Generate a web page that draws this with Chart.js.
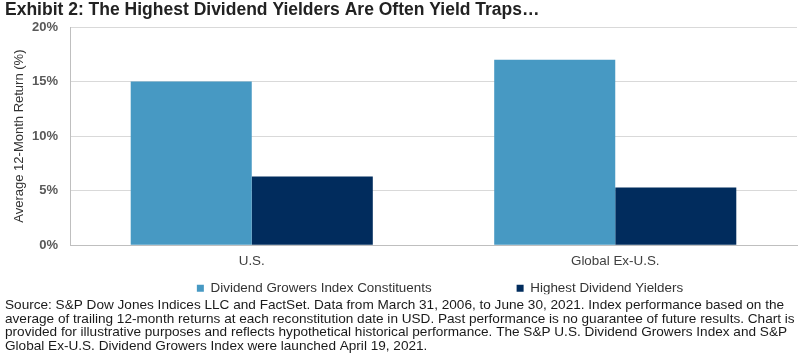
<!DOCTYPE html>
<html>
<head>
<meta charset="utf-8">
<script src="https://cdn.jsdelivr.net/npm/chart.js@4"></script>
<style>
  html, body { margin: 0; padding: 0; background: #ffffff; }
  #wrap { width: 807px; height: 360px; position: relative; }
</style>
</head>
<body>
<div id="wrap"><canvas id="c" width="807" height="360"></canvas></div>
<script>
const categories = ["U.S.", "Global Ex-U.S."];
const growersValues = [15.0, 17.0];
const yieldersValues = [6.3, 5.3];
const seriesNames = ["Dividend Growers Index Constituents", "Highest Dividend Yielders"];
const yTicks = [0, 5, 10, 15, 20];
const titleText = "Exhibit 2: The Highest Dividend Yielders Are Often Yield Traps\u2026";
const yTitle = "Average 12-Month Return (%)";
const sourceLines = [
  "Source: S&P Dow Jones Indices LLC and FactSet. Data from March 31, 2006, to June 30, 2021. Index performance based on the",
  "average of trailing 12-month returns at each reconstitution date in USD. Past performance is no guarantee of future results. Chart is",
  "provided for illustrative purposes and reflects hypothetical historical performance. The S&P U.S. Dividend Growers Index and S&P",
  "Global Ex-U.S. Dividend Growers Index were launched April 19, 2021."
];

const FONT = "'Liberation Sans', Arial, sans-serif";
const LEGEND_PAD = 85;
const LEGEND_DX = 39;
const LEGEND_DY = 4.2;

const legendShift = {
  id: 'legendShift',
  afterLayout(chart) {
    const lg = chart.legend;
    if (!lg) return;
    lg.top -= (LEGEND_PAD - LEGEND_DY);
    lg.left += LEGEND_DX;
    lg.right += LEGEND_DX;
  }
};

new Chart(document.getElementById('c'), {
  type: 'bar',
  data: {
    labels: categories,
    datasets: [
      { label: seriesNames[0], data: growersValues, backgroundColor: '#4799C3', borderWidth: 0 },
      { label: seriesNames[1], data: yieldersValues, backgroundColor: '#012C5D', borderWidth: 0 }
    ]
  },
  options: {
    responsive: false,
    animation: false,
    devicePixelRatio: 1,
    layout: { padding: { left: 5, right: 10, top: 0, bottom: 0 } },
    datasets: { bar: { categoryPercentage: 0.666, barPercentage: 1.0 } },
    plugins: {
      tooltip: { enabled: false },
      title: {
        display: true,
        text: titleText,
        align: 'start',
        color: '#222222',
        font: { family: FONT, size: 17.5, weight: 'bold' },
        padding: { top: 0, bottom: 6 }
      },
      subtitle: {
        display: true,
        position: 'bottom',
        align: 'start',
        text: sourceLines,
        color: '#1a1a1a',
        font: { family: FONT, size: 13.6, lineHeight: 1.0 },
        padding: { top: 4.1, bottom: 7.2 }
      },
      legend: {
        position: 'bottom',
        maxHeight: 17,
        labels: {
          boxWidth: 7,
          boxHeight: 7,
          padding: LEGEND_PAD,
          color: '#333333',
          font: { family: FONT, size: 13.4 }
        }
      }
    },
    scales: {
      x: {
        grid: { display: false, drawTicks: false },
        border: { color: '#bfbfbf' },
        ticks: { color: '#404040', padding: 8, font: { family: FONT, size: 13.4 } }
      },
      y: {
        min: 0,
        max: 20,
        afterBuildTicks(scale) { scale.ticks = yTicks.map(v => ({ value: v })); },
        afterFit(scale) { scale.width = 65; },
        grid: { color: '#d9d9d9', drawTicks: false },
        border: { color: '#bfbfbf' },
        ticks: {
          color: '#595959',
          padding: 12,
          font: { family: FONT, size: 13, weight: 'bold' },
          callback: v => v + '%'
        },
        title: {
          display: true,
          text: yTitle,
          color: '#333333',
          font: { family: FONT, size: 13 },
          padding: { top: 7, bottom: 0 }
        }
      }
    }
  },
  plugins: [legendShift]
});
</script>
</body>
</html>
